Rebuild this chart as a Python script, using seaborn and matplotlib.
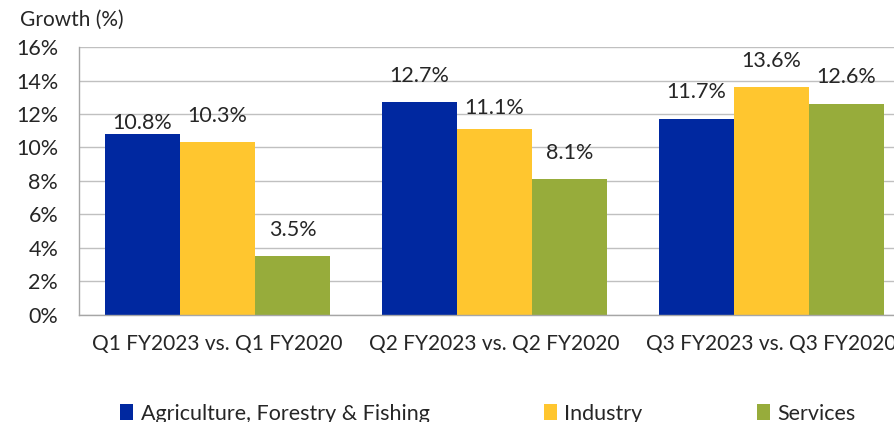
import pandas as pd
import matplotlib
matplotlib.use("Agg")
import matplotlib.pyplot as plt
import seaborn as sns

# chart data
periods = ["Q1 FY2023 vs. Q1 FY2020", "Q2 FY2023 vs. Q2 FY2020", "Q3 FY2023 vs. Q3 FY2020"]
sectors = ["Agriculture, Forestry & Fishing", "Industry", "Services"]
agriculture = [10.8, 12.7, 11.7]
industry = [10.3, 11.1, 13.6]
services = [3.5, 8.1, 12.6]
y_ticks = [0, 2, 4, 6, 8, 10, 12, 14, 16]

colors = ["#0028A0", "#FFC62F", "#97AC3B"]

df = pd.DataFrame({
    "Period": periods * 3,
    "Sector": [s for s in sectors for _ in periods],
    "Growth": agriculture + industry + services,
})

sns.set_style("white")
plt.rcParams["font.family"] = ["Lato", "DejaVu Sans"]

fig = plt.figure(figsize=(8.95, 4.22), dpi=100)
ax = fig.add_axes([0.0883, 0.2536, 0.928, 0.635])

sns.barplot(data=df, x="Period", y="Growth", hue="Sector", order=periods,
            hue_order=sectors, palette=colors, width=0.8125, linewidth=0,
            saturation=1, ax=ax, legend=True)

ax.set_xlim(-0.5, 2.5)
ax.set_ylim(0, 16)
ax.set_yticks(y_ticks)
ax.set_yticklabels([f"{t}%" for t in y_ticks])
ax.set_xlabel("")
ax.set_ylabel("")
ax.grid(axis="y", color="#C0C0C0", linewidth=1)
ax.set_axisbelow(True)
for side in ["top", "right"]:
    ax.spines[side].set_visible(False)
for side in ["left", "bottom"]:
    ax.spines[side].set_color("#A6A6A6")
    ax.spines[side].set_linewidth(1)
ax.tick_params(axis="y", length=5, color="#A6A6A6", labelsize=15.5, pad=10)
ax.tick_params(axis="x", length=0, labelsize=15, pad=14)

# data labels, Excel nudged two of them down
label_pad = {"10.8%": 1, "11.1%": 8}
for cont in ax.containers:
    for bar in cont:
        h = bar.get_height()
        txt = f"{h:.1f}%"
        ax.annotate(txt, (bar.get_x() + bar.get_width() / 2, h),
                    xytext=(0, label_pad.get(txt, 12)), textcoords="offset points",
                    ha="center", va="bottom", fontsize=15.5)

fig.text(0.022, 0.952, "Growth (%)", fontsize=15, va="center", ha="left")

handles, labels = ax.get_legend_handles_labels()
ax.legend_.remove()
fig.legend(handles, labels, loc="center", bbox_to_anchor=(0.545, 0.02),
           ncol=3, frameon=False, fontsize=15.5, handlelength=0.62,
           handleheight=0.7, handletextpad=0.35, columnspacing=5.3)

fig.savefig("out.png", dpi=100)
